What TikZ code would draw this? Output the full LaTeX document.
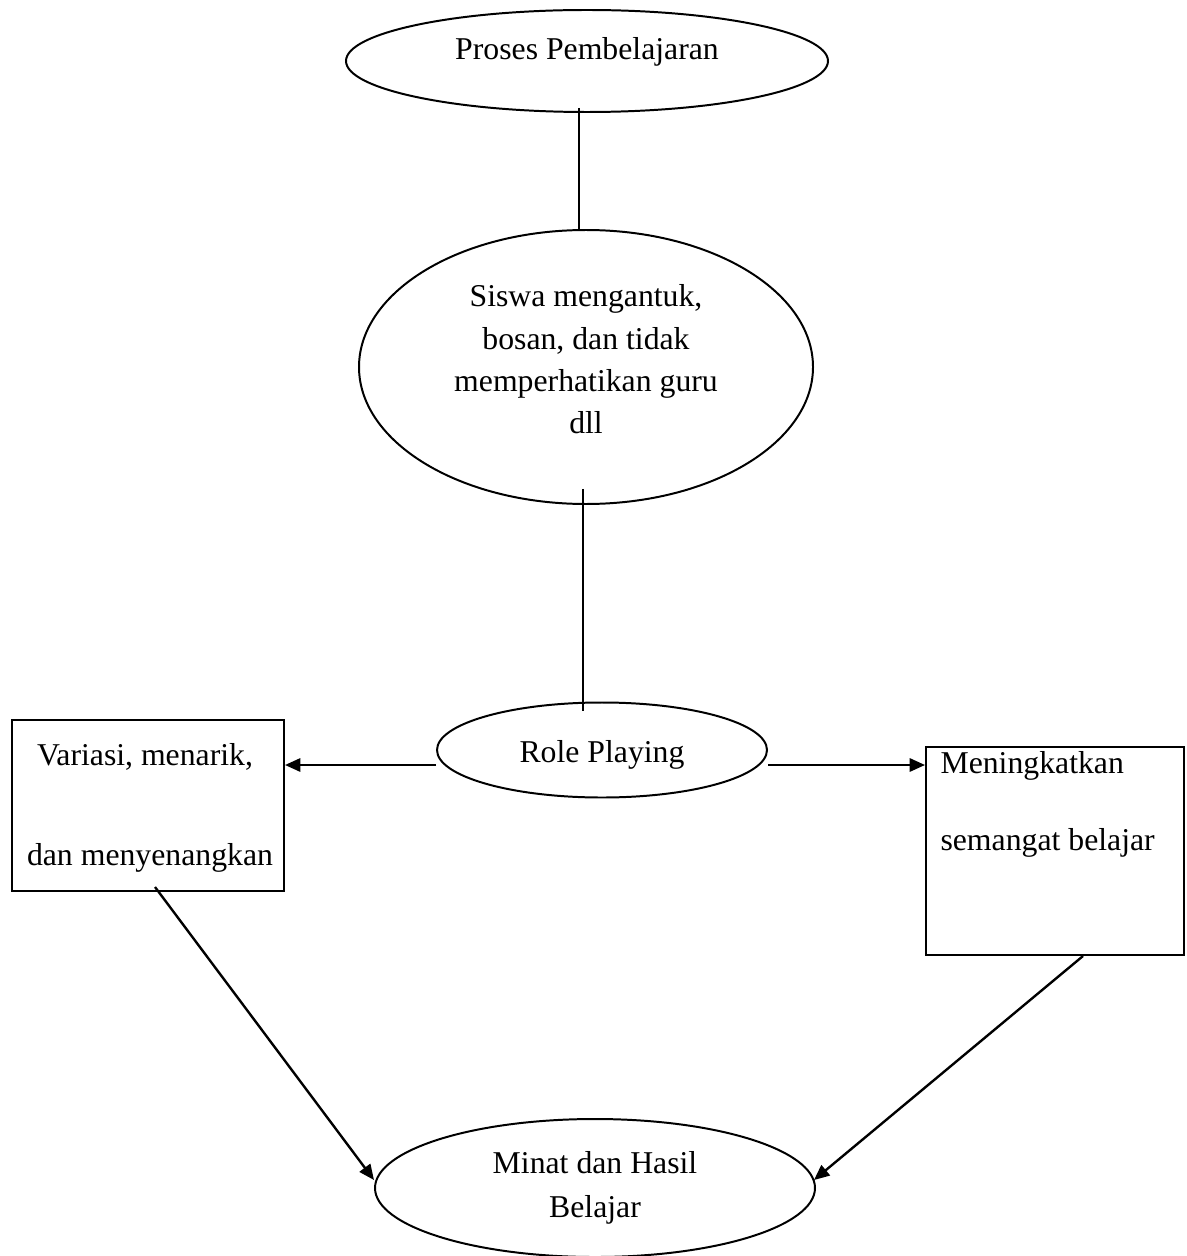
\documentclass[tikz,border=0pt]{standalone}
\usepackage{fontspec}
\setmainfont{Liberation Serif}
\usetikzlibrary{shapes.geometric,arrows.meta,calc}
\begin{document}
\begin{tikzpicture}[x=0.378pt,y=-0.378pt,
  every node/.style={font=\fontsize{12}{15.9}\selectfont},
  oval/.style={draw,ellipse,line width=0.75pt,inner sep=0pt,align=center},
  box/.style={draw,rectangle,line width=0.75pt,inner sep=0pt},
  txt/.style={inner sep=0pt},
  conn/.style={line width=0.75pt},
  arr/.style={line width=0.9pt,-{Triangle[length=5.8pt,width=5pt]}}]
\useasboundingbox[fill=white] (0,0) rectangle (1186,1256);

% shapes
\node[oval,minimum width={482*0.378pt},minimum height={102*0.378pt},text depth=9.5pt] (top) at (587,61) {Proses Pembelajaran};
\node[oval,minimum width={454*0.378pt},minimum height={274*0.378pt},text depth=6pt] (siswa) at (586,367)
  {Siswa mengantuk,\\bosan, dan tidak\\memperhatikan guru\\dll};
\node[oval,minimum width={330*0.378pt},minimum height={95*0.378pt},text height=12pt] (role) at (602,750) {Role Playing};
\node[box,minimum width={272*0.378pt},minimum height={171*0.378pt}] (lbox) at (148,805.5) {};
\node[box,minimum width={258*0.378pt},minimum height={208*0.378pt}] (rbox) at (1055,851) {};
\node[oval,minimum width={440*0.378pt},minimum height={138*0.378pt},font=\fontsize{12}{16.6}\selectfont] (bot) at (595,1188)
  {Minat dan Hasil\\Belajar};

% box texts
\node[txt] (lt1) at (145,757) {Variasi, menarik,};
\node[txt] (lt2) at (150,858) {dan menyenangkan};
\node[txt,anchor=west] (rt1) at (940,766) {Meningkatkan};
\node[txt,anchor=west] (rt2) at (940,843) {semangat belajar};

% connectors
\draw[conn] ($(top.south)+(-8,-5)$) -- ($(siswa.north)+(-7,0)$);
\draw[conn] ($(siswa.south)+(-3,-16)$) -- ($(role.north)+(-19,9)$);
\draw[arr] ($(role.west)+(0,15)$) -- ($(lbox.east)+(0,-40.5)$);
\draw[arr] ($(role.east)+(0,15)$) -- ($(rbox.west)+(0,-86)$);
\draw[arr] ($(lbox.south)+(7,-5)$) -- ($(bot.west)+(0,-8)$);
\draw[arr] ($(rbox.south)+(28,0)$) -- ($(bot.east)+(-2,-8)$);
\end{tikzpicture}
\end{document}
